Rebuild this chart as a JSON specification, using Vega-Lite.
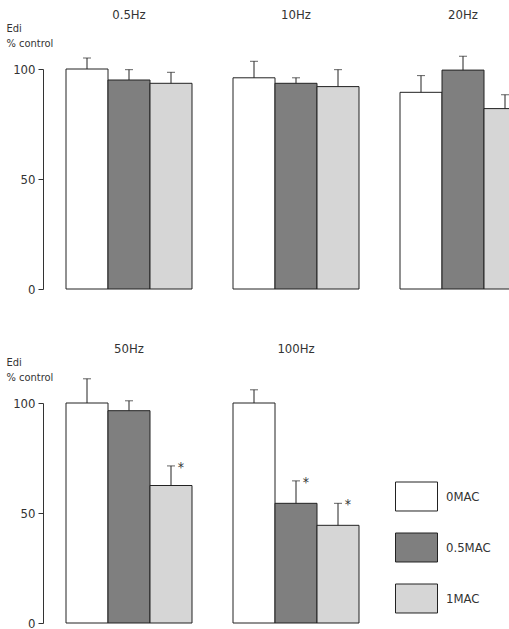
{
  "$schema": "https://vega.github.io/schema/vega-lite/v6.json",
  "padding": {"left": 6, "top": 9, "right": 0, "bottom": 0},
  "background": "white",
  "data": {"values": [
    {"hz": "0.5Hz", "mac": "0MAC", "value": 100, "upper": 105, "sig": ""},
    {"hz": "0.5Hz", "mac": "0.5MAC", "value": 95, "upper": 99.7, "sig": ""},
    {"hz": "0.5Hz", "mac": "1MAC", "value": 93.5, "upper": 98.5, "sig": ""},
    {"hz": "10Hz", "mac": "0MAC", "value": 96, "upper": 103.5, "sig": ""},
    {"hz": "10Hz", "mac": "0.5MAC", "value": 93.5, "upper": 96, "sig": ""},
    {"hz": "10Hz", "mac": "1MAC", "value": 92, "upper": 99.7, "sig": ""},
    {"hz": "20Hz", "mac": "0MAC", "value": 89.4, "upper": 97, "sig": ""},
    {"hz": "20Hz", "mac": "0.5MAC", "value": 99.5, "upper": 105.8, "sig": ""},
    {"hz": "20Hz", "mac": "1MAC", "value": 82, "upper": 88.3, "sig": ""},
    {"hz": "50Hz", "mac": "0MAC", "value": 100, "upper": 111, "sig": ""},
    {"hz": "50Hz", "mac": "0.5MAC", "value": 96.5, "upper": 101, "sig": ""},
    {"hz": "50Hz", "mac": "1MAC", "value": 62.5, "upper": 71.4, "sig": "*"},
    {"hz": "100Hz", "mac": "0MAC", "value": 100, "upper": 106, "sig": ""},
    {"hz": "100Hz", "mac": "0.5MAC", "value": 54.4, "upper": 64.6, "sig": "*"},
    {"hz": "100Hz", "mac": "1MAC", "value": 44.4, "upper": 54.4, "sig": "*"}
  ]},
  "columns": 3,
  "spacing": {"column": 39, "row": 53},
  "facet": {
    "field": "hz", "type": "nominal",
    "sort": ["0.5Hz", "10Hz", "20Hz", "50Hz", "100Hz"],
    "header": {"title": null, "labelFontSize": 13, "labelColor": "#333", "labelPadding": -3, "labelFont": "Liberation Sans Narrow, DejaVu Sans Condensed, sans-serif"}
  },
  "spec": {
    "width": 126,
    "height": 270,
    "encoding": {
      "x": {"field": "mac", "type": "nominal", "sort": ["0MAC", "0.5MAC", "1MAC"], "axis": null, "scale": {"paddingInner": 0, "paddingOuter": 0}}
    },
    "layer": [
      {
        "mark": {"type": "bar", "stroke": "#222", "strokeWidth": 1},
        "encoding": {
          "y": {"field": "value", "type": "quantitative", "scale": {"domain": [0, 100], "nice": false, "range": [270, 50]},
            "axis": {"values": [0, 50, 100], "offset": 22, "grid": false, "tickSize": 5, "domainColor": "#333", "tickColor": "#333", "labelFontSize": 13, "labelColor": "#333", "labelPadding": 3,
              "title": ["Edi", "% control"], "titleAngle": 0, "titleAlign": "left", "titleBaseline": "alphabetic", "titleX": -37, "titleY": 12, "titleFontSize": 11, "titleFontWeight": "normal", "titleColor": "#333", "titleLineHeight": 15}},
          "fill": {"field": "mac", "type": "nominal", "sort": ["0MAC", "0.5MAC", "1MAC"],
            "scale": {"domain": ["0MAC", "0.5MAC", "1MAC"], "range": ["#ffffff", "#7f7f7f", "#d6d6d6"]},
            "legend": {"title": null, "orient": "none", "legendX": 329, "legendY": 456, "symbolType": "M-1,-0.69H1V0.69H-1Z", "symbolSize": 1764, "symbolStrokeColor": "#222", "symbolStrokeWidth": 1, "symbolOpacity": 1, "rowPadding": 13, "labelOffset": 8, "labelFontSize": 13, "labelColor": "#333"}}
        }
      },
      {
        "mark": {"type": "rule", "stroke": "#222", "strokeWidth": 1},
        "encoding": {"y": {"field": "value", "type": "quantitative"}, "y2": {"field": "upper"}}
      },
      {
        "mark": {"type": "tick", "color": "#222", "size": 8, "thickness": 1},
        "encoding": {"y": {"field": "upper", "type": "quantitative"}}
      },
      {
        "mark": {"type": "text", "dx": 10, "dy": 2, "fontSize": 14, "fill": "#333"},
        "encoding": {"y": {"field": "upper", "type": "quantitative"}, "text": {"field": "sig"}}
      }
    ]
  },
  "config": {
    "view": {"stroke": null},
    "font": "Liberation Sans Narrow, DejaVu Sans Condensed, sans-serif"
  }
}
